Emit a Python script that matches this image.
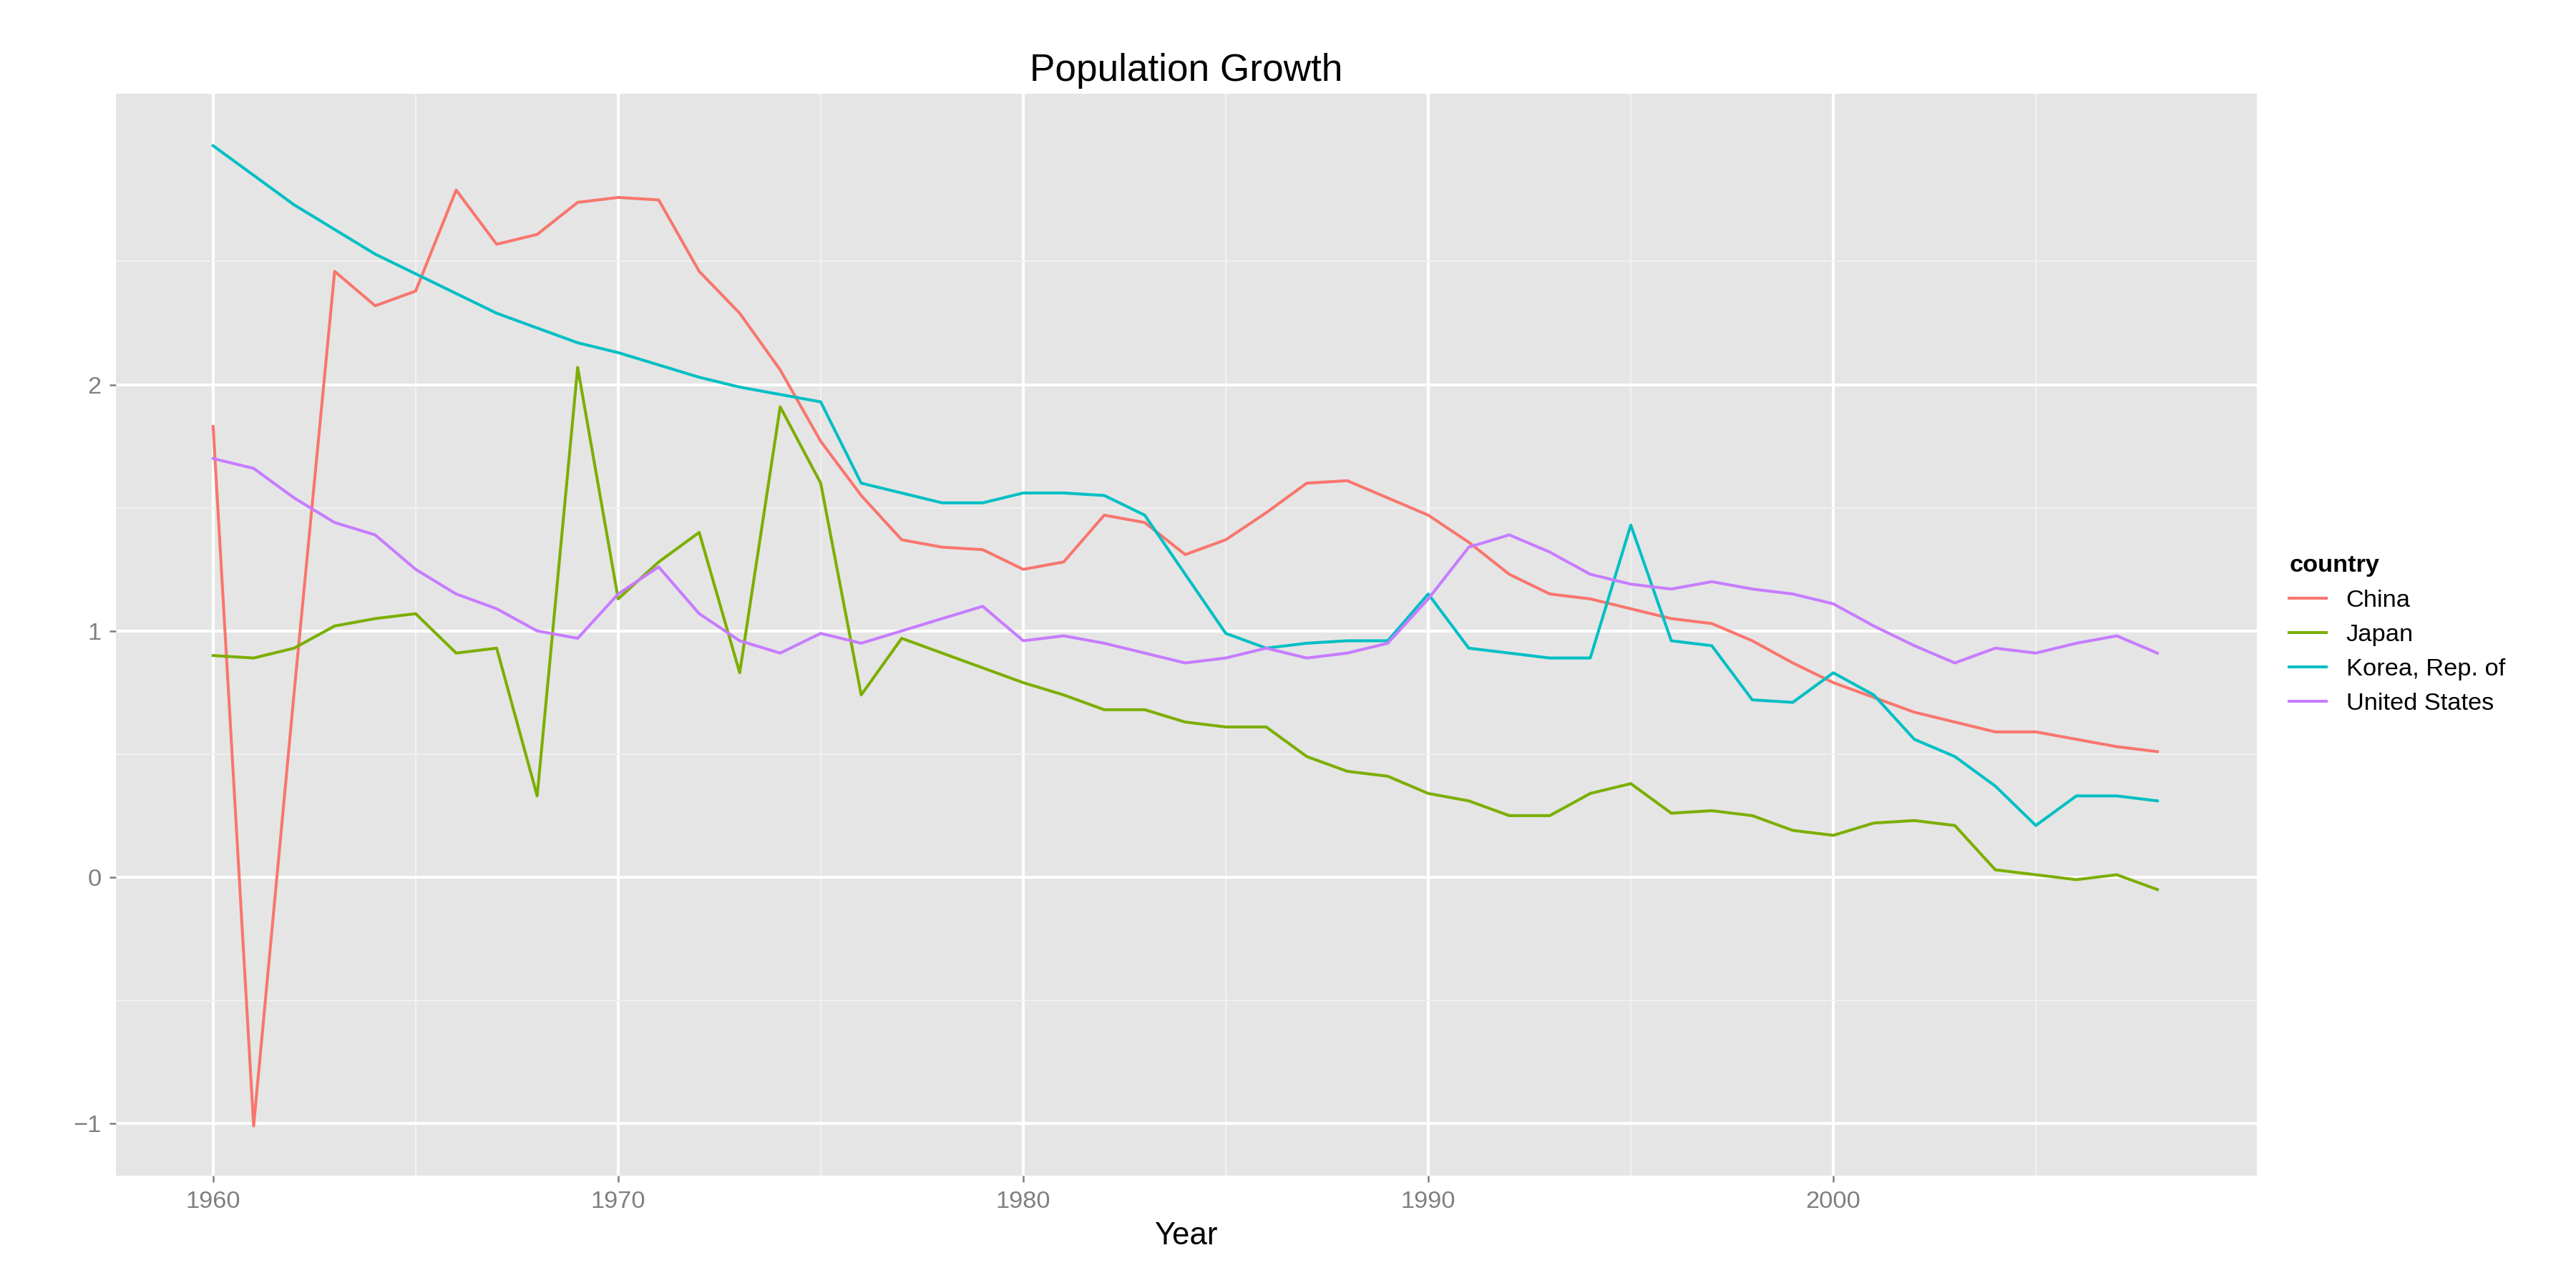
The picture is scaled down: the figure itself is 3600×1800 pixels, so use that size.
import numpy as np, pandas as pd, matplotlib
matplotlib.use("Agg")
import matplotlib.pyplot as plt, seaborn as sns

years = list(range(1960, 2009))
china = [1.83,-1.01,0.75,2.46,2.32,2.38,2.79,2.57,2.61,2.74,2.76,2.75,2.46,2.29,2.06,1.77,1.55,1.37,1.34,1.33,1.25,1.28,1.47,1.44,1.31,1.37,1.48,1.60,1.61,1.54,1.47,1.36,1.23,1.15,1.13,1.09,1.05,1.03,0.96,0.87,0.79,0.73,0.67,0.63,0.59,0.59,0.56,0.53,0.51]
japan = [0.90,0.89,0.93,1.02,1.05,1.07,0.91,0.93,0.33,2.07,1.13,1.28,1.40,0.83,1.91,1.60,0.74,0.97,0.91,0.85,0.79,0.74,0.68,0.68,0.63,0.61,0.61,0.49,0.43,0.41,0.34,0.31,0.25,0.25,0.34,0.38,0.26,0.27,0.25,0.19,0.17,0.22,0.23,0.21,0.03,0.01,-0.01,0.01,-0.05]
korea = [2.97,2.85,2.73,2.63,2.53,2.45,2.37,2.29,2.23,2.17,2.13,2.08,2.03,1.99,1.96,1.93,1.60,1.56,1.52,1.52,1.56,1.56,1.55,1.47,1.23,0.99,0.93,0.95,0.96,0.96,1.15,0.93,0.91,0.89,0.89,1.43,0.96,0.94,0.72,0.71,0.83,0.74,0.56,0.49,0.37,0.21,0.33,0.33,0.31]
usa = [1.70,1.66,1.54,1.44,1.39,1.25,1.15,1.09,1.00,0.97,1.15,1.26,1.07,0.96,0.91,0.99,0.95,1.00,1.05,1.10,0.96,0.98,0.95,0.91,0.87,0.89,0.93,0.89,0.91,0.95,1.13,1.34,1.39,1.32,1.23,1.19,1.17,1.20,1.17,1.15,1.11,1.02,0.94,0.87,0.93,0.91,0.95,0.98,0.91]
countries = ["China", "Japan", "Korea, Rep. of", "United States"]
colors = ["#F8766D", "#7CAE00", "#00BFC4", "#C77CFF"]

df = pd.DataFrame({"Year": years*4,
                   "growth": china+japan+korea+usa,
                   "country": sum([[c]*len(years) for c in countries], [])})

plt.rcParams['font.family'] = ['Liberation Sans', 'DejaVu Sans']
fig = plt.figure(figsize=(16, 8), dpi=225)
ax = fig.add_axes([0.045, 0.087, 0.831, 0.84])
ax.set_facecolor("#E5E5E5")
sns.lineplot(data=df, x="Year", y="growth", hue="country", palette=colors,
             hue_order=countries, ax=ax, linewidth=1.3)
ax.set_xlim(1957.6, 2010.45)
ax.set_ylim(-1.213, 3.18)
ax.set_xticks([1960,1970,1980,1990,2000])
ax.set_xticks([1965,1975,1985,1995,2005], minor=True)
ax.set_yticks([-1,0,1,2])
ax.set_yticks([-0.5,0.5,1.5,2.5], minor=True)
ax.grid(which="major", color="white", linewidth=1.3)
ax.grid(which="minor", color="#F2F2F2", linewidth=0.6)
ax.set_axisbelow(True)
for s in ax.spines.values(): s.set_visible(False)
ax.tick_params(which="both", length=3, color="#7F7F7F", labelcolor="#7F7F7F", labelsize=11)
ax.tick_params(which="minor", length=0)
ax.set_xlabel("Year", fontsize=14)
ax.set_ylabel("")
ax.set_title("Population Growth", fontsize=17)
leg = ax.legend(title="country", loc="center left", bbox_to_anchor=(1.005, 0.5),
                frameon=False, fontsize=11, handlelength=1.5)
leg.get_title().set_fontweight("bold")
leg.get_title().set_fontsize(11)
leg._legend_box.align = "left"
fig.savefig("out.png")
